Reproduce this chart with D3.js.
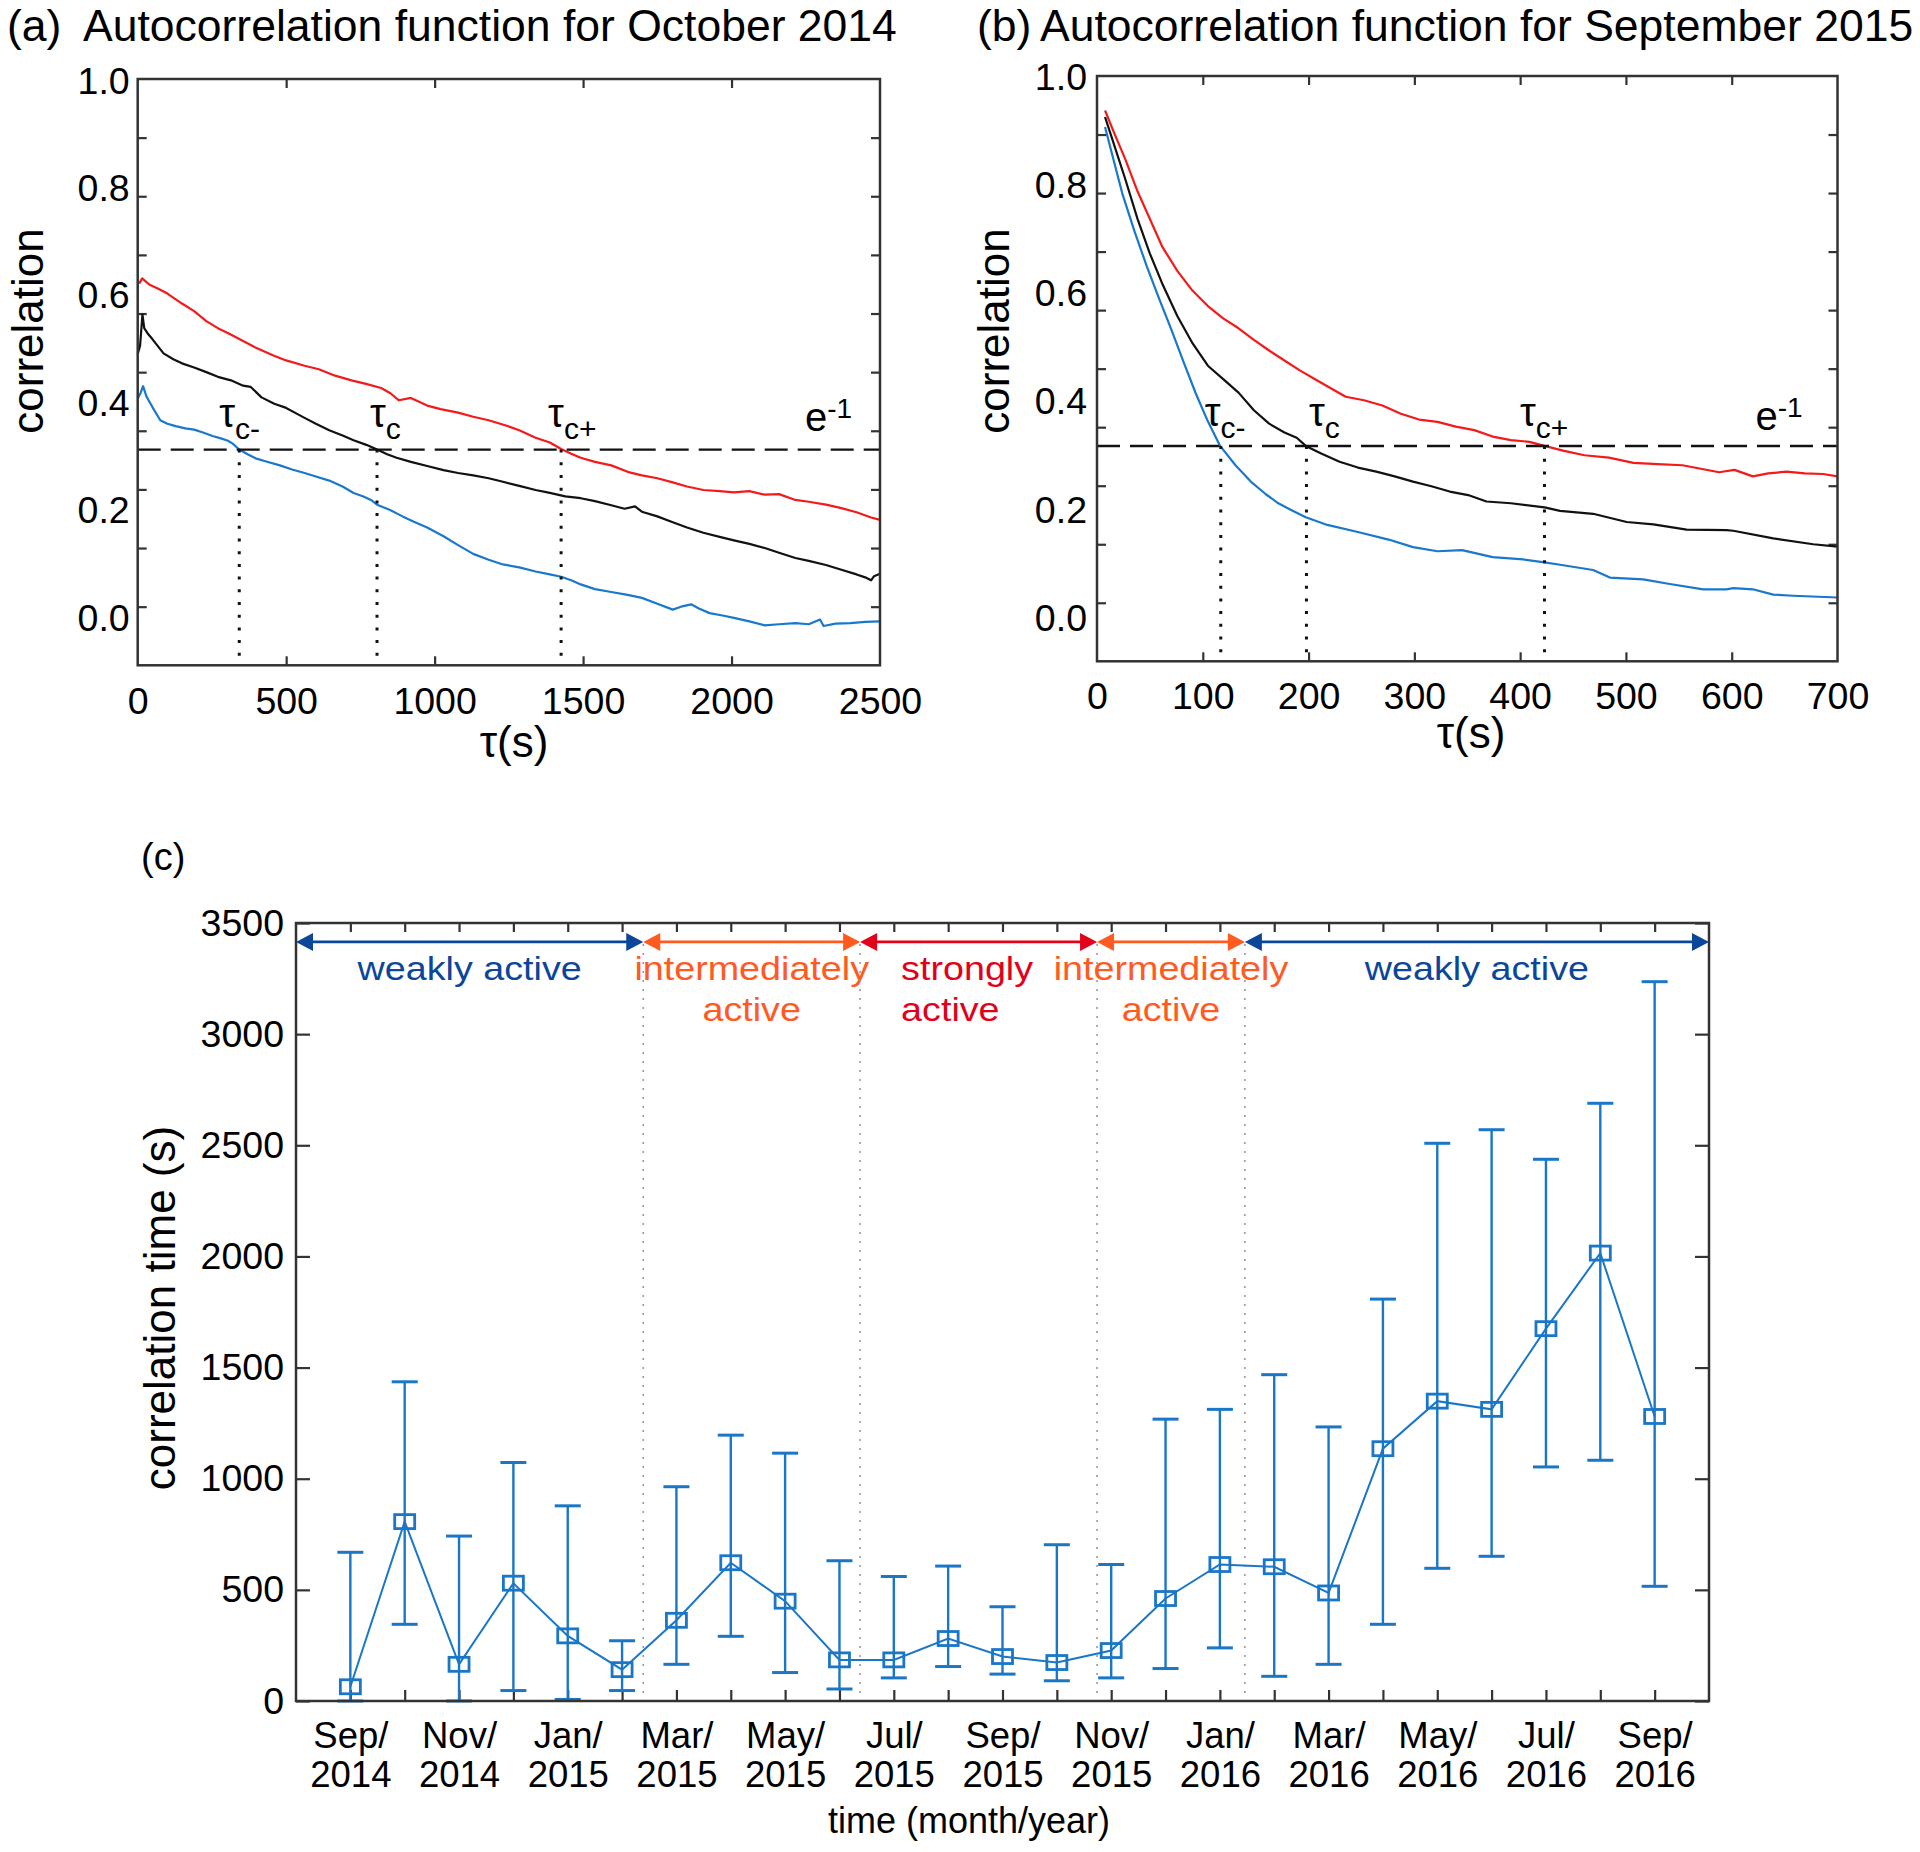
<!DOCTYPE html>
<html><head><meta charset="utf-8">
<script src="https://cdn.jsdelivr.net/npm/d3@7"></script>
<style>
body{margin:0;background:#fff}
svg text{font-family:"Liberation Sans",Arial,Helvetica,sans-serif}
</style></head><body>
<svg id="fig" width="1920" height="1852"></svg>
<script>
// ---------------- DATA ----------------
// (a) autocorrelation, October 2014: [tau (s), correlation]
const octRed = [[5,0.651],[15,0.660],[40,0.649],[66,0.643],[100,0.634],[149,0.617],[190,0.604],[231,0.587],[270,0.575],[310,0.565],[355,0.553],[400,0.541],[459,0.528],[500,0.520],[562,0.511],[610,0.505],[665,0.494],[720,0.486],[769,0.480],[820,0.473],[851,0.464],[880,0.452],[920,0.456],[975,0.443],[1020,0.437],[1079,0.431],[1130,0.424],[1182,0.418],[1240,0.409],[1285,0.401],[1340,0.388],[1388,0.380],[1426,0.369],[1460,0.361],[1492,0.354],[1540,0.347],[1595,0.341],[1650,0.330],[1698,0.324],[1750,0.319],[1802,0.312],[1850,0.305],[1905,0.299],[1960,0.297],[2008,0.295],[2060,0.297],[2112,0.291],[2160,0.292],[2215,0.282],[2260,0.279],[2318,0.274],[2370,0.268],[2421,0.261],[2470,0.252],[2500,0.248]];
const octBlack = [[0,0.531],[8,0.545],[16,0.598],[22,0.575],[35,0.565],[50,0.556],[87,0.532],[120,0.522],[149,0.515],[190,0.508],[231,0.500],[270,0.492],[314,0.486],[355,0.477],[380,0.475],[417,0.457],[460,0.446],[500,0.439],[540,0.428],[562,0.422],[600,0.412],[645,0.401],[690,0.392],[727,0.384],[770,0.376],[806,0.368],[840,0.360],[872,0.354],[920,0.347],[975,0.340],[1030,0.333],[1079,0.328],[1130,0.324],[1182,0.319],[1230,0.313],[1285,0.306],[1340,0.299],[1388,0.294],[1440,0.288],[1492,0.285],[1540,0.280],[1595,0.273],[1640,0.267],[1675,0.271],[1698,0.262],[1750,0.254],[1802,0.244],[1850,0.235],[1905,0.226],[1960,0.219],[2008,0.213],[2060,0.207],[2112,0.200],[2160,0.192],[2215,0.183],[2260,0.178],[2318,0.171],[2370,0.163],[2421,0.155],[2450,0.150],[2470,0.145],[2480,0.152],[2500,0.156]];
const octBlue = [[0,0.455],[10,0.465],[18,0.476],[30,0.458],[50,0.440],[76,0.418],[100,0.412],[128,0.408],[160,0.404],[190,0.402],[220,0.397],[252,0.391],[280,0.387],[304,0.383],[320,0.378],[342,0.368],[370,0.360],[397,0.353],[430,0.348],[479,0.341],[520,0.334],[562,0.328],[600,0.322],[645,0.315],[690,0.305],[727,0.294],[760,0.288],[789,0.281],[806,0.274],[850,0.265],[892,0.254],[930,0.245],[975,0.235],[1030,0.220],[1079,0.205],[1130,0.190],[1182,0.180],[1230,0.172],[1285,0.167],[1340,0.160],[1388,0.155],[1426,0.151],[1460,0.145],[1492,0.138],[1540,0.130],[1595,0.125],[1650,0.120],[1698,0.115],[1750,0.105],[1802,0.095],[1830,0.100],[1864,0.104],[1890,0.097],[1926,0.089],[1970,0.085],[2008,0.081],[2060,0.075],[2112,0.068],[2160,0.070],[2215,0.072],[2260,0.070],[2298,0.078],[2310,0.067],[2350,0.071],[2400,0.072],[2450,0.074],[2500,0.075]];
// (b) autocorrelation, September 2015
const sepRed = [[7.6,0.941],[15.2,0.907],[26.7,0.858],[38.3,0.803],[49.9,0.756],[61.5,0.709],[75.9,0.667],[90.4,0.633],[104.8,0.607],[119.3,0.586],[133.8,0.569],[148.3,0.549],[162.7,0.531],[177.2,0.514],[191.7,0.497],[206.1,0.482],[220.6,0.467],[235.1,0.452],[252.4,0.446],[269.8,0.437],[287.2,0.423],[304.5,0.413],[321.9,0.409],[339.2,0.401],[356.6,0.395],[374,0.384],[391.3,0.378],[408.7,0.375],[423.1,0.368],[440.5,0.360],[460.8,0.352],[483.9,0.348],[507.1,0.339],[530.2,0.337],[553.4,0.335],[570.8,0.329],[588.1,0.323],[602.6,0.327],[620,0.316],[634.4,0.321],[651.8,0.324],[669.1,0.321],[686.5,0.320],[700,0.316]];
const sepBlack = [[7.6,0.930],[15.2,0.888],[26.7,0.824],[38.3,0.756],[49.9,0.697],[61.5,0.646],[75.9,0.590],[90.4,0.543],[104.8,0.505],[119.3,0.482],[133.8,0.459],[148.3,0.429],[162.7,0.406],[177.2,0.391],[188.8,0.382],[197.4,0.368],[211.9,0.355],[229.3,0.341],[246.6,0.331],[264,0.324],[281.4,0.316],[298.7,0.307],[316.1,0.299],[333.4,0.290],[350.8,0.284],[368.2,0.273],[391.3,0.270],[423.1,0.263],[437.7,0.257],[469,0.252],[500.7,0.238],[525.9,0.234],[557.4,0.225],[595,0.224],[601.5,0.223],[639.3,0.210],[677,0.200],[700,0.196]];
const sepBlue = [[7.6,0.913],[15.2,0.860],[23.8,0.800],[35.4,0.735],[47,0.675],[58.6,0.620],[70.2,0.567],[81.7,0.512],[93.3,0.458],[104.8,0.410],[116.4,0.368],[130.9,0.335],[145.4,0.307],[159.9,0.285],[171.4,0.270],[183,0.259],[197.4,0.246],[217.7,0.233],[246.6,0.221],[275.6,0.208],[298.7,0.195],[321.9,0.188],[345.1,0.190],[374,0.178],[402.9,0.174],[423.1,0.169],[437.7,0.165],[469,0.156],[484.8,0.143],[516.3,0.140],[541.5,0.132],[573,0.123],[595,0.123],[601.5,0.125],[620,0.123],[639.3,0.114],[658,0.112],[700,0.109]];
// correlation times marked by dotted lines (tau_c-, tau_c, tau_c+)
const octTauMarks = [342, 806, 1426];
const sepTauMarks = [117, 198, 423];
const tauMarkSubs = ["c-", "c", "c+"];
const eInverse = Math.exp(-1);
const corrTicks = d3.range(0, 11).map(i => i / 10);
const corrLabels = [0, 0.2, 0.4, 0.6, 0.8, 1.0];
const octTauTicks = [0, 500, 1000, 1500, 2000, 2500];
const sepTauTicks = [0, 100, 200, 300, 400, 500, 600, 700];

// (c) monthly correlation time with error bars
const months = ["Sep/2014","Oct/2014","Nov/2014","Dec/2014","Jan/2015","Feb/2015","Mar/2015","Apr/2015","May/2015","Jun/2015","Jul/2015","Aug/2015","Sep/2015","Oct/2015","Nov/2015","Dec/2015","Jan/2016","Feb/2016","Mar/2016","Apr/2016","May/2016","Jun/2016","Jul/2016","Aug/2016","Sep/2016"];
const corrTime     = [64, 807, 165, 530, 293, 141, 363, 622, 449, 185, 185, 281, 200, 173, 227, 461, 614, 604, 486, 1135, 1349, 1312, 1675, 2015, 1280];
const corrTimeLow  = [0, 345, 0, 47, 7, 47, 165, 291, 128, 54, 104, 155, 121, 91, 104, 146, 239, 111, 165, 345, 597, 651, 1053, 1083, 516];
const corrTimeHigh = [669, 1436, 742, 1073, 878, 271, 964, 1196, 1115, 631, 560, 607, 424, 703, 614, 1268, 1312, 1468, 1233, 1808, 2509, 2570, 2437, 2689, 3236];
const corrTimeTicks = [0, 500, 1000, 1500, 2000, 2500, 3000, 3500];
const monthLabelIdx = [0, 2, 4, 6, 8, 10, 12, 14, 16, 18, 20, 22, 24];
// activity periods (in month index units, 0 = Sep/2014)
const activityText  = [["weakly active"], ["intermediately", "active"], ["strongly", "active"], ["intermediately", "active"], ["weakly active"]];
const activityLevel = ["weak", "intermediate", "strong", "intermediate", "weak"];
const activityStart = [-1, 5.39, 9.38, 13.74, 16.46];
const activityEnd   = [5.39, 9.38, 13.74, 16.46, 25];
const activityArrowLevel = 3415;

// ---------------- STYLE ----------------
const FONT = '"Liberation Sans",Arial,Helvetica,sans-serif';
const AX = "#333";
const C_RED = "#f41a1a", C_BLK = "#111", C_BLU = "#1a78cc";
const C_SER = "#1a76c6";
const levelColor = {weak: "#0b4699", intermediate: "#ff5a1f", strong: "#e2001a"};
const intFmt = d3.format("d");

const svg = d3.select("#fig");

function styleAxis(g, fs) {
  g.attr("font-family", FONT).attr("font-size", fs).attr("color", AX);
  g.select(".domain").remove();
  g.selectAll(".tick line").attr("stroke-width", 2.2);
  g.selectAll(".tick text").attr("fill", "#000");
}

// ---------------- PANELS (a) and (b) ----------------
function acfPanel(cfg) {
  const x = d3.scaleLinear().domain([0, cfg.xMax]).range([cfg.left, cfg.right]);
  const y = d3.scaleLinear().domain([0, 1]).range([cfg.bottom, cfg.top]);
  const yLab = d3.scaleLinear().domain([0, 1]).range([cfg.labBottom, cfg.labTop]);
  const g = svg.append("g");

  // ticks (inward on all four sides)
  styleAxis(g.append("g").attr("transform", `translate(0,${cfg.bottom})`)
    .call(d3.axisBottom(x).tickValues(cfg.xTicks.slice(1, -1)).tickSize(-9).tickFormat("")), 37);
  styleAxis(g.append("g").attr("transform", `translate(0,${cfg.top})`)
    .call(d3.axisTop(x).tickValues(cfg.xTicks.slice(1, -1)).tickSize(-9).tickFormat("")), 37);
  styleAxis(g.append("g").attr("transform", `translate(${cfg.left},0)`)
    .call(d3.axisLeft(y).tickValues(corrTicks.slice(1, -1)).tickSize(-9).tickFormat("")), 37);
  styleAxis(g.append("g").attr("transform", `translate(${cfg.right},0)`)
    .call(d3.axisRight(y).tickValues(corrTicks.slice(1, -1)).tickSize(-9).tickFormat("")), 37);
  // tick labels
  styleAxis(g.append("g").attr("transform", `translate(0,${cfg.bottom})`)
    .call(d3.axisBottom(x).tickValues(cfg.xTicks).tickSize(0).tickPadding(cfg.xPad).tickFormat(intFmt)), 37.5);
  styleAxis(g.append("g").attr("transform", `translate(${cfg.left},0)`)
    .call(d3.axisLeft(yLab).tickValues(corrLabels).tickSize(0).tickPadding(cfg.yPad).tickFormat(d3.format(".1f"))), 37.5);

  // curves
  const line = d3.line().x(d => x(d[0])).y(d => y(d[1]));
  [[cfg.red, C_RED], [cfg.black, C_BLK], [cfg.blue, C_BLU]].forEach(([data, col]) => {
    g.append("path").datum(data).attr("d", line).attr("fill", "none")
      .attr("stroke", col).attr("stroke-width", 2.2).attr("stroke-linejoin", "round");
  });

  // e^-1 dashed line
  g.append("line").attr("x1", cfg.left).attr("x2", cfg.right)
    .attr("y1", y(eInverse)).attr("y2", y(eInverse))
    .attr("stroke", "#111").attr("stroke-width", 2.4).attr("stroke-dasharray", "23,10");
  // dotted verticals
  g.selectAll(".tm").data(cfg.marks).join("line")
    .attr("x1", d => x(d)).attr("x2", d => x(d))
    .attr("y1", y(eInverse)).attr("y2", cfg.bottom)
    .attr("stroke", "#111").attr("stroke-width", 3).attr("stroke-dasharray", "3,9.7");
  // tau labels
  cfg.marks.forEach((m, i) => {
    const t = g.append("text").attr("x", x(m) + cfg.markOff[i]).attr("y", cfg.tauBase)
      .attr("font-size", 40).attr("fill", "#000");
    t.append("tspan").text("τ");
    t.append("tspan").attr("font-size", 30).attr("dy", 12).text(tauMarkSubs[i]);
  });
  const e = g.append("text").attr("x", cfg.right + cfg.eOff).attr("y", cfg.tauBase + 4)
    .attr("font-size", 40).attr("fill", "#000");
  e.append("tspan").text("e");
  e.append("tspan").attr("font-size", 28).attr("dy", -13).text("-1");

  // frame
  g.append("rect").attr("x", cfg.left).attr("y", cfg.top)
    .attr("width", cfg.right - cfg.left).attr("height", cfg.bottom - cfg.top)
    .attr("fill", "none").attr("stroke", AX).attr("stroke-width", 2.5);

  // titles
  const tt = g.append("text").attr("y", 41).attr("font-size", 44.5).attr("fill", "#000");
  tt.append("tspan").attr("x", cfg.tagX).text(cfg.tag);
  tt.append("tspan").attr("x", cfg.titleX).text(cfg.title);
  g.append("text").attr("transform", `translate(${cfg.yTitleX},${cfg.yTitleY}) rotate(-90)`)
    .attr("text-anchor", "middle").attr("font-size", 44).attr("fill", "#000").text("correlation");
  g.append("text").attr("x", cfg.xTitleX).attr("y", cfg.xTitleY)
    .attr("text-anchor", "middle").attr("font-size", 44).attr("fill", "#000").text("τ(s)");
}

acfPanel({left: 137.7, right: 880, top: 79, bottom: 665.3, labTop: 81, labBottom: 618,
  xMax: 2500, xTicks: octTauTicks, xPad: 21.7, yPad: 8,
  red: octRed, black: octBlack, blue: octBlue, marks: octTauMarks, markOff: [-20, -7, -13],
  tauBase: 427, eOff: -75, tag: "(a)", tagX: 7, title: "Autocorrelation function for October 2014", titleX: 83,
  yTitleX: 43, yTitleY: 331, xTitleX: 514, xTitleY: 757});

acfPanel({left: 1097, right: 1837.5, top: 76, bottom: 661.3, labTop: 77, labBottom: 618.5,
  xMax: 700, xTicks: sepTauTicks, xPad: 20.7, yPad: 10,
  red: sepRed, black: sepBlack, blue: sepBlue, marks: sepTauMarks, markOff: [-16, 2.5, -24.5],
  tauBase: 426, eOff: -82, tag: "(b)", tagX: 977, title: "Autocorrelation function for September 2015", titleX: 1040,
  yTitleX: 1009, yTitleY: 331, xTitleX: 1471, xTitleY: 748});

// ---------------- PANEL (c) ----------------
(function () {
  const L = 296, R = 1709, T = 923, B = 1701;
  const x = d3.scaleLinear().domain([-1, 25]).range([L, R]);
  const y = d3.scaleLinear().domain([0, 3500]).range([B, T]);
  const g = svg.append("g");
  const idx = d3.range(months.length);

  // ticks
  styleAxis(g.append("g").attr("transform", `translate(0,${B})`)
    .call(d3.axisBottom(x).tickValues(idx).tickSize(-11).tickFormat("")), 36);
  styleAxis(g.append("g").attr("transform", `translate(0,${T})`)
    .call(d3.axisTop(x).tickValues(idx).tickSize(-9).tickFormat("")), 36);
  styleAxis(g.append("g").attr("transform", `translate(${L},0)`)
    .call(d3.axisLeft(y).tickValues(corrTimeTicks).tickSizeInner(-14).tickSizeOuter(0).tickPadding(12).tickFormat(intFmt)), 37.5);
  styleAxis(g.append("g").attr("transform", `translate(${R},0)`)
    .call(d3.axisRight(y).tickValues(corrTimeTicks).tickSize(-14).tickFormat("")), 37);
  const gx = g.append("g").attr("transform", `translate(0,${B})`)
    .call(d3.axisBottom(x).tickValues(monthLabelIdx).tickSize(0).tickPadding(21.5));
  styleAxis(gx, 36.5);
  gx.selectAll(".tick text").each(function (d) {
    const parts = months[d].split("/");
    const t = d3.select(this).text(null);
    t.append("tspan").attr("x", 0).attr("dy", "0.71em").text(parts[0] + "/");
    t.append("tspan").attr("x", 0).attr("dy", "1.07em").text(parts[1]);
  });

  // activity periods
  const ya = y(activityArrowLevel);
  activityStart.forEach((s, i) => {
    const col = levelColor[activityLevel[i]];
    const x0 = x(s), x1 = x(activityEnd[i]);
    if (i > 0) {
      g.append("line").attr("x1", x0).attr("x2", x0).attr("y1", ya + 2).attr("y2", B)
        .attr("stroke", "#9a9a9a").attr("stroke-width", 1.6).attr("stroke-dasharray", "2,7");
    }
    g.append("line").attr("x1", x0 + 8).attr("x2", x1 - 8).attr("y1", ya).attr("y2", ya)
      .attr("stroke", col).attr("stroke-width", 2.6);
    g.append("path").attr("d", `M${x0},${ya}L${x0 + 17},${ya - 9}L${x0 + 17},${ya + 9}Z`).attr("fill", col);
    g.append("path").attr("d", `M${x1},${ya}L${x1 - 17},${ya - 9}L${x1 - 17},${ya + 9}Z`).attr("fill", col);
    const strong = activityLevel[i] === "strong";
    const tx = strong ? x0 + 41 : (x0 + x1) / 2;
    activityText[i].forEach((s2, k) => {
      g.append("text").attr("transform", `translate(${tx},${980 + k * 41}) scale(1.16,1)`)
        .attr("text-anchor", strong ? "start" : "middle").attr("font-size", 32.5)
        .attr("fill", col).text(s2);
    });
  });

  // error bars
  idx.forEach(i => {
    const xi = x(i);
    g.append("line").attr("x1", xi).attr("x2", xi).attr("y1", y(corrTimeLow[i])).attr("y2", y(corrTimeHigh[i]))
      .attr("stroke", C_SER).attr("stroke-width", 2.4);
    [corrTimeLow[i], corrTimeHigh[i]].forEach(v => {
      g.append("line").attr("x1", xi - 13).attr("x2", xi + 13).attr("y1", y(v)).attr("y2", y(v))
        .attr("stroke", C_SER).attr("stroke-width", 3);
    });
  });
  // connecting line
  g.append("path").datum(idx).attr("fill", "none").attr("stroke", C_SER).attr("stroke-width", 2)
    .attr("d", d3.line().x(i => x(i)).y(i => y(corrTime[i])));
  // markers
  g.selectAll(".mk").data(idx).join("rect")
    .attr("x", i => x(i) - 10).attr("y", i => y(corrTime[i]) - 7)
    .attr("width", 20).attr("height", 14)
    .attr("fill", "none").attr("stroke", C_SER).attr("stroke-width", 2.8);

  // frame
  g.append("rect").attr("x", L).attr("y", T).attr("width", R - L).attr("height", B - T)
    .attr("fill", "none").attr("stroke", AX).attr("stroke-width", 2.5);

  // labels
  g.append("text").attr("x", 141).attr("y", 870).attr("font-size", 38).attr("fill", "#000").text("(c)");
  g.append("text").attr("transform", `translate(175,1308) rotate(-90)`).attr("text-anchor", "middle")
    .attr("font-size", 44).attr("fill", "#000").text("correlation time (s)");
  g.append("text").attr("x", 969).attr("y", 1833).attr("text-anchor", "middle")
    .attr("font-size", 36).attr("fill", "#000").text("time (month/year)");
})();
</script>
</body></html>
